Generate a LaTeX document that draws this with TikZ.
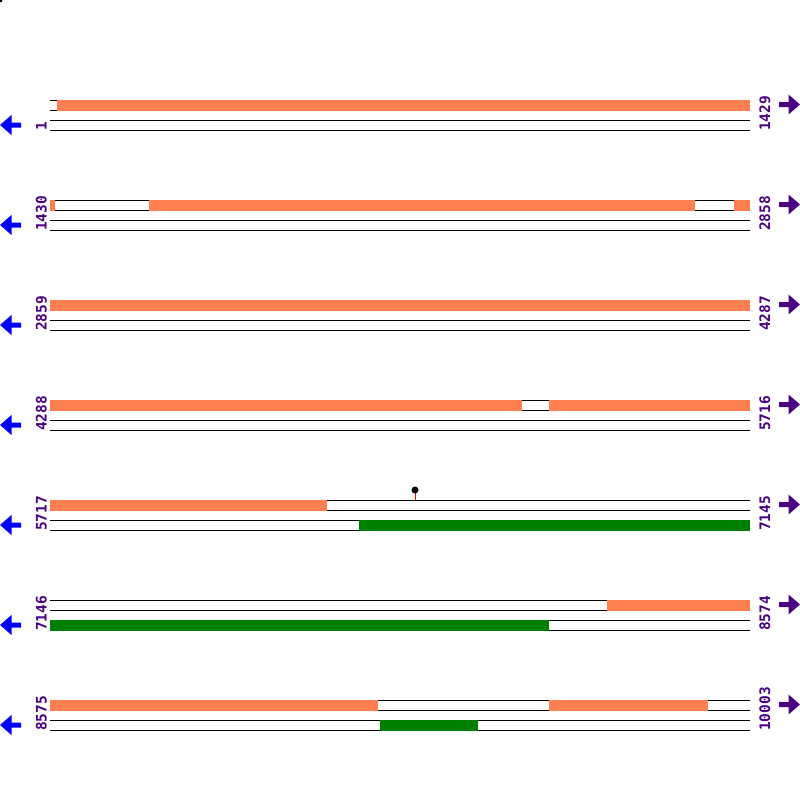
\documentclass[tikz,border=0pt]{standalone}
\usepackage{fontspec}
\newfontfamily\labfont{DejaVu Sans Mono}
\definecolor{coral}{HTML}{FF7F50}
\definecolor{gbar}{HTML}{008000}
\definecolor{indig}{HTML}{4B0082}
\tikzset{
  seqline/.style={black, line width=1pt},
  orangebar/.style={fill=coral, draw=none},
  greenbar/.style={fill=gbar, draw=none},
  numlabel/.style={font=\labfont\bfseries\fontsize{14.5}{14.5}\selectfont, text=indig, rotate=90, anchor=base west, inner sep=0pt},
  leftarrow/.style={fill=blue},
  rightarrow/.style={fill=indig}
}
\begin{document}
\begin{tikzpicture}[x=1pt,y=-1pt]
\useasboundingbox (0,0) rectangle (800,800);
\fill[black] (0,0) circle (2.5);
% rows
\foreach \r/\a/\b [count=\i] in {100/1/1429, 200/1430/2858, 300/2859/4287, 400/4288/5716, 500/5717/7145, 600/7146/8574, 700/8575/10003} {
  \foreach \dy in {0,10,20,30} {
    \draw[seqline] (50,\r+\dy) -- (750,\r+\dy);
  }
  \node[numlabel] (L\i) at (46.5,\r+31) {\a};
  \node[numlabel] (R\i) at (770,\r+31) {\b};
  \fill[leftarrow] (0,\r+25) -- (11.5,\r+15) -- (11.5,\r+22.5) -- (21,\r+22.5) -- (21,\r+27.5) -- (11.5,\r+27.5) -- (11.5,\r+35) -- cycle;
  \fill[rightarrow] (800,\r+4.5) -- (788.5,\r-5.5) -- (788.5,\r+2) -- (779,\r+2) -- (779,\r+7) -- (788.5,\r+7) -- (788.5,\r+14.5) -- cycle;
}
% orange bars
\foreach \r/\x/\e in {100/57/750, 200/50/55, 200/149/695, 200/734/750, 300/50/750, 400/50/521.5, 400/549/750, 500/50/327, 600/607/750, 700/50/377.5, 700/549/707.5} {
  \fill[orangebar] (\x,\r-0.5) rectangle (\e,\r+10.5);
}
% green bars
\foreach \r/\x/\e in {500/359/750, 600/50/548.5, 700/380/477.5} {
  \fill[greenbar] (\x,\r+19.5) rectangle (\e,\r+30.5);
}
% lollipop
\draw[red, line width=1pt] (415,490) -- (415,500);
\fill[black] (415,490) circle (3.5);
\end{tikzpicture}
\end{document}
